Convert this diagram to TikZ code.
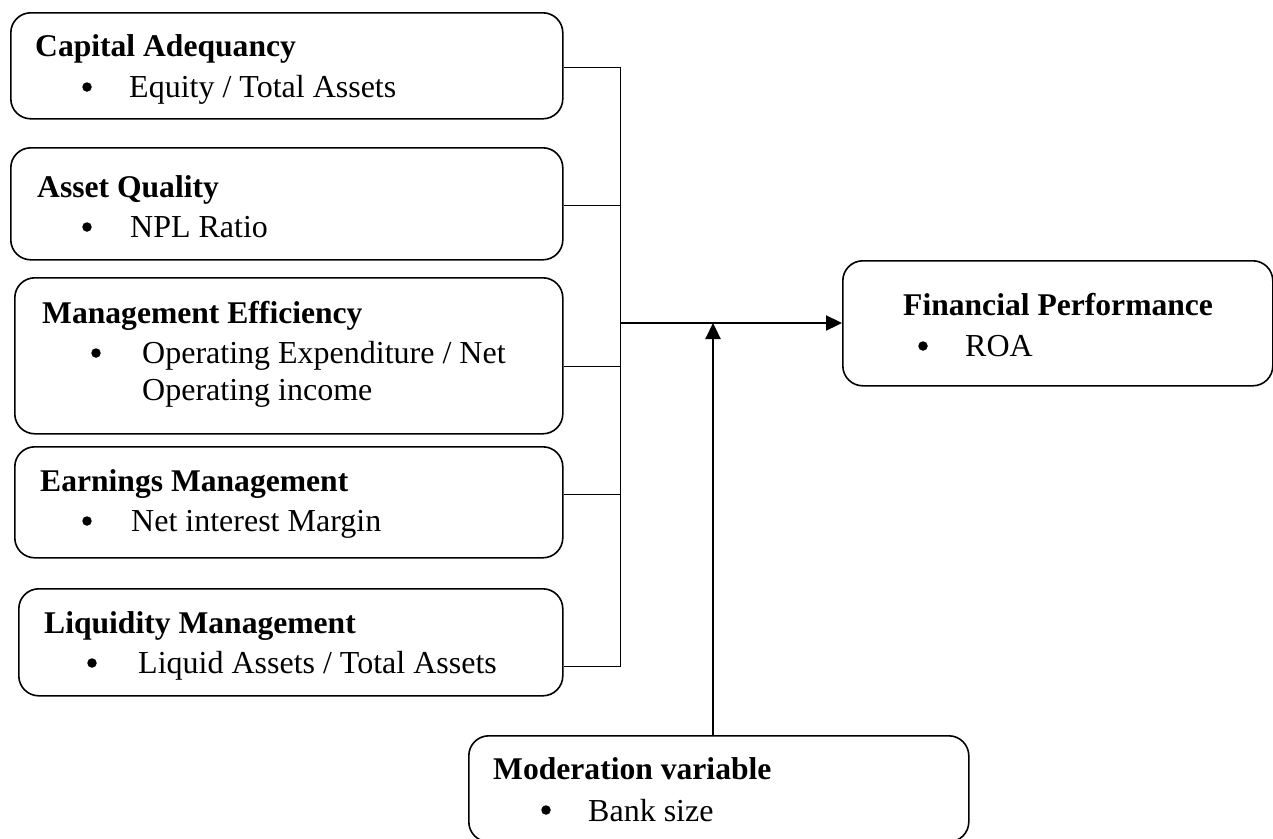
\documentclass[tikz,border=0pt]{standalone}
\usepackage{fontspec}
\setmainfont{Liberation Serif}
\usetikzlibrary{arrows.meta}
\begin{document}
\begin{tikzpicture}[x=1pt,y=-1pt,
  box/.style={draw,line width=1.6pt,rounded corners=20pt,anchor=north west,inner sep=0pt},
  head/.style={anchor=base west,inner sep=0pt,font=\fontsize{31.6}{38}\selectfont\bfseries},
  item/.style={anchor=base west,inner sep=0pt,font=\fontsize{32}{38}\selectfont},
  dot/.style={circle,fill,inner sep=0pt,minimum size=9.5pt},
  thin/.style={line width=1pt},
  arr/.style={line width=2.2pt,-{Triangle[length=16pt,width=15pt]}}]
\useasboundingbox (0,0) rectangle (1273,838);
% boxes
\node[box,minimum width=552pt,minimum height=106pt] (b1) at (10,12) {};
\node[box,minimum width=552pt,minimum height=112pt] (b2) at (10,147) {};
\node[box,minimum width=548pt,minimum height=156pt] (b3) at (14,277) {};
\node[box,minimum width=548pt,minimum height=111pt] (b4) at (14,446) {};
\node[box,minimum width=544pt,minimum height=107pt] (b5) at (18,588) {};
\node[box,minimum width=430pt,minimum height=125pt] (fp) at (842,260) {};
\node[box,minimum width=500pt,minimum height=106pt] (mv) at (468,735) {};
% texts
\node[head] (h1) at (35,56) {Capital Adequancy};
\node[dot] (d1) at (87,87) {};
\node[item] (i1) at (129,97) {Equity / Total Assets};
\node[head] (h2) at (37,197) {Asset Quality};
\node[dot] (d2) at (87,227) {};
\node[item] (i2) at (130,237) {NPL Ratio};
\node[head] (h3) at (42,323) {Management Efficiency};
\node[dot] (d3) at (96,353) {};
\node[item] (i3) at (142,363) {Operating Expenditure / Net};
\node[item] (i3b) at (142,400) {Operating income};
\node[head] (h4) at (40,491) {Earnings Management};
\node[dot] (d4) at (87,521) {};
\node[item] (i4) at (131,531) {Net interest Margin};
\node[head] (h5) at (44,633) {Liquidity Management};
\node[dot] (d5) at (92,663) {};
\node[item] (i5) at (138,673) {Liquid Assets / Total Assets};
\node[head] (h6) at (903,315) {Financial Performance};
\node[dot] (d6) at (923,346) {};
\node[item] (i6) at (965,356) {ROA};
\node[head] (h7) at (493,779) {Moderation variable};
\node[dot] (d7) at (546,810) {};
\node[item] (i7) at (588,821) {Bank size};
% connectors
\coordinate (top) at (620,67);
\coordinate (bot) at (620,666);
\coordinate (mid) at (620,323);
\coordinate (mod) at (713,323);
\draw[thin] (b1.east |- top) -- (top) -- (bot) -- (b5.east |- bot);
\draw[thin] (b2.east |- 0,205) -- (620,205);
\draw[thin] (b3.east |- 0,366) -- (620,366);
\draw[thin] (b4.east |- 0,494) -- (620,494);
\draw[arr] (mid) -- (fp.west |- mid);
\draw[arr] (mv.north -| mod) -- (mod);
\end{tikzpicture}
\end{document}
